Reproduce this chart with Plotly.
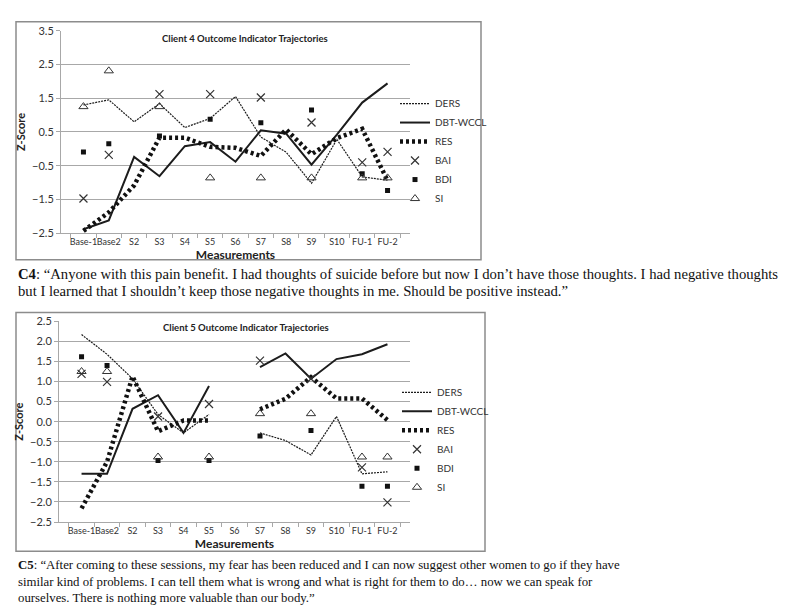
import plotly.graph_objects as go

W, H = 800, 612

measurements = ["Base-1", "Base2", "S2", "S3", "S4", "S5", "S6",
                "S7", "S8", "S9", "S10", "FU-1", "FU-2"]
series_names = ["DERS", "DBT-WCCL", "RES", "BAI", "BDI", "SI"]

# Client 4 z-scores
c4_ders = [1.30, 1.45, 0.80, 1.34, 0.63, 0.90, 1.55, 0.35, -0.10, -1.02, 0.28, -0.83, -0.93]
c4_dbt = [-2.38, -2.12, -0.24, -0.81, 0.08, 0.20, -0.38, 0.55, 0.45, -0.47, 0.42, 1.37, 1.94]
c4_res = [-2.43, -1.88, -1.08, 0.33, 0.33, 0.06, 0.03, -0.21, 0.57, -0.16, 0.32, 0.59, -0.94]
c4_bai = [-1.47, -0.18, None, 1.62, None, 1.62, None, 1.52, None, 0.78, None, -0.40, -0.09]
c4_bdi = [-0.09, 0.15, None, 0.38, None, 0.88, None, 0.77, None, 1.15, None, -0.74, -1.23]
c4_si = [1.25, 2.31, None, 1.25, None, -0.86, None, -0.86, None, -0.86, None, -0.86, -0.86]

# Client 5 z-scores (no S6 session)
c5_ders = [2.17, 1.68, 1.07, 0.18, -0.28, 0.18, None, -0.28, -0.47, -0.83, 0.13, -1.30, -1.25]
c5_dbt = [-1.30, -1.30, 0.32, 0.66, -0.28, 0.89, None, 1.36, 1.70, 1.07, 1.56, 1.68, 1.93]
c5_res = [-2.16, -1.00, 1.13, -0.24, 0.03, 0.03, None, 0.31, 0.57, 1.11, 0.58, 0.58, 0.04]
c5_bai = [1.19, 0.99, None, 0.13, None, 0.44, None, 1.52, None, 1.07, None, -1.14, -2.01]
c5_bdi = [1.62, 1.40, None, -0.97, None, -0.97, None, -0.36, None, -0.22, None, -1.61, -1.61]
c5_si = [1.25, 1.25, None, -0.88, None, -0.88, None, 0.20, None, 0.20, None, -0.88, -0.88]

c4_quote = [
    "<b>C4</b>: \u201cAnyone with this pain benefit. I had thoughts of suicide before but now I don\u2019t have those thoughts. I had negative thoughts",
    "but I learned that I shouldn\u2019t keep those negative thoughts in me. Should be positive instead.\u201d",
]
c5_quote = [
    "<b>C5</b>: \u201cAfter coming to these sessions, my fear has been reduced and I can now suggest other women to go if they have",
    "similar kind of problems. I can tell them what is wrong and what is right for them to do\u2026 now we can speak for",
    "ourselves. There is nothing more valuable than our body.\u201d",
]

CHART_FONT = "Lato"
TEXT_FONT = "Liberation Serif"
INK = "#1c1c1c"
GRID = "#a8a8a8"


def px(x):
    return x / W


def py(y):
    return 1 - y / H


def add_client(fig, xa, ya, legend, data):
    ders, dbt, res, bai, bdi, si = data
    common = dict(x=measurements, xaxis=xa, yaxis=ya, legend=legend)
    fig.add_trace(go.Scatter(y=ders, name="DERS", mode="lines",
                             line=dict(color=INK, width=1.2, dash="2px,1px"),
                             connectgaps=False, **common))
    fig.add_trace(go.Scatter(y=dbt, name="DBT-WCCL", mode="lines",
                             line=dict(color=INK, width=2),
                             connectgaps=False, **common))
    fig.add_trace(go.Scatter(y=res, name="RES", mode="lines",
                             line=dict(color="#111111", width=4.5, dash="3px,3px"),
                             connectgaps=False, **common))
    fig.add_trace(go.Scatter(y=bai, name="BAI", mode="markers",
                             marker=dict(symbol="x-thin", size=8, color="#333333",
                                         line=dict(width=1.2, color="#333333")),
                             **common))
    fig.add_trace(go.Scatter(y=bdi, name="BDI", mode="markers",
                             marker=dict(symbol="square", size=5, color="#111111"),
                             **common))
    fig.add_trace(go.Scatter(y=si, name="SI", mode="markers",
                             marker=dict(symbol="triangle-up-open", size=8, color="#333333",
                                         line=dict(width=1, color="#333333")),
                             **common))


fig = go.Figure()
add_client(fig, "x", "y", "legend", [c4_ders, c4_dbt, c4_res, c4_bai, c4_bdi, c4_si])
add_client(fig, "x2", "y2", "legend2", [c5_ders, c5_dbt, c5_res, c5_bai, c5_bdi, c5_si])

xaxis_style = dict(
    type="category", categoryorder="array", categoryarray=measurements,
    showline=True, linecolor=GRID, linewidth=1, ticks="outside", tickson="boundaries",
    ticklen=4, tickcolor=GRID, showgrid=False, zeroline=False, tickangle=0,
    tickfont=dict(family=CHART_FONT, size=9, color="#333"),
    title=dict(text="<b>Measurements</b>", font=dict(family=CHART_FONT, size=12, color="#222"),
               standoff=0),
)
yaxis_style = dict(
    showline=True, linecolor=GRID, linewidth=1, ticks="outside", ticklen=4, tickcolor=GRID,
    showgrid=True, gridcolor=GRID, gridwidth=1, zeroline=False,
    tickfont=dict(family=CHART_FONT, size=11, color="#333"),
    title=dict(text="<b>Z-Score</b>", font=dict(family=CHART_FONT, size=11, color="#222"),
               standoff=4),
)

legend_style = dict(font=dict(family=CHART_FONT, size=10, color="#333"),
                    bgcolor="rgba(0,0,0,0)", xanchor="left", yanchor="middle",
                    itemwidth=30, tracegroupgap=0)

fig.update_layout(
    width=W, height=H,
    margin=dict(l=0, r=0, t=0, b=0),
    paper_bgcolor="white", plot_bgcolor="white",
    font=dict(family=CHART_FONT, color="#333"),
    xaxis=dict(domain=[px(53), px(402)], anchor="y", **xaxis_style),
    yaxis=dict(domain=[py(223), py(16)], anchor="x", range=[-2.5, 3.5],
               tick0=-2.5, dtick=1, tickformat=".1f", **yaxis_style),
    xaxis2=dict(domain=[px(51), px(402)], anchor="y2", **xaxis_style),
    yaxis2=dict(domain=[py(518), py(313)], anchor="x2", range=[-2.5, 2.5],
                tick0=-2.5, dtick=0.5, tickformat=".1f", **yaxis_style),
    legend=dict(x=px(387), y=py(139), **legend_style),
    legend2=dict(x=px(389), y=py(434), **legend_style),
    showlegend=True,
)

shapes = [
    dict(type="rect", xref="paper", yref="paper", x0=px(8), x1=px(473), y0=py(250), y1=py(7),
         line=dict(color="#8c8c8c", width=1.5), fillcolor="rgba(0,0,0,0)", layer="below"),
    dict(type="rect", xref="paper", yref="paper", x0=px(8), x1=px(477), y0=py(548), y1=py(304),
         line=dict(color="#8c8c8c", width=1.5), fillcolor="rgba(0,0,0,0)", layer="below"),
]
fig.update_layout(shapes=shapes)

annotations = [
    dict(text="<b>Client 4 Outcome Indicator Trajectories</b>", x=px(237), y=py(24),
         font=dict(family=CHART_FONT, size=9.5, color="#222")),
    dict(text="<b>Client 5 Outcome Indicator Trajectories</b>", x=px(238), y=py(319),
         font=dict(family=CHART_FONT, size=9.5, color="#222")),
]
for i, line in enumerate(c4_quote):
    annotations.append(dict(text=line, x=px(8), y=py(265 + 17 * i), xanchor="left",
                            font=dict(family=TEXT_FONT, size=14.7, color="#111")))
for i, line in enumerate(c5_quote):
    annotations.append(dict(text=line, x=px(8), y=py(562 + 17 * i), xanchor="left",
                            font=dict(family=TEXT_FONT, size=12.8, color="#111")))
for a in annotations:
    a.setdefault("xanchor", "center")
    a.update(xref="paper", yref="paper", yanchor="middle", showarrow=False)
fig.update_layout(annotations=annotations)

fig.write_html("out.html")
